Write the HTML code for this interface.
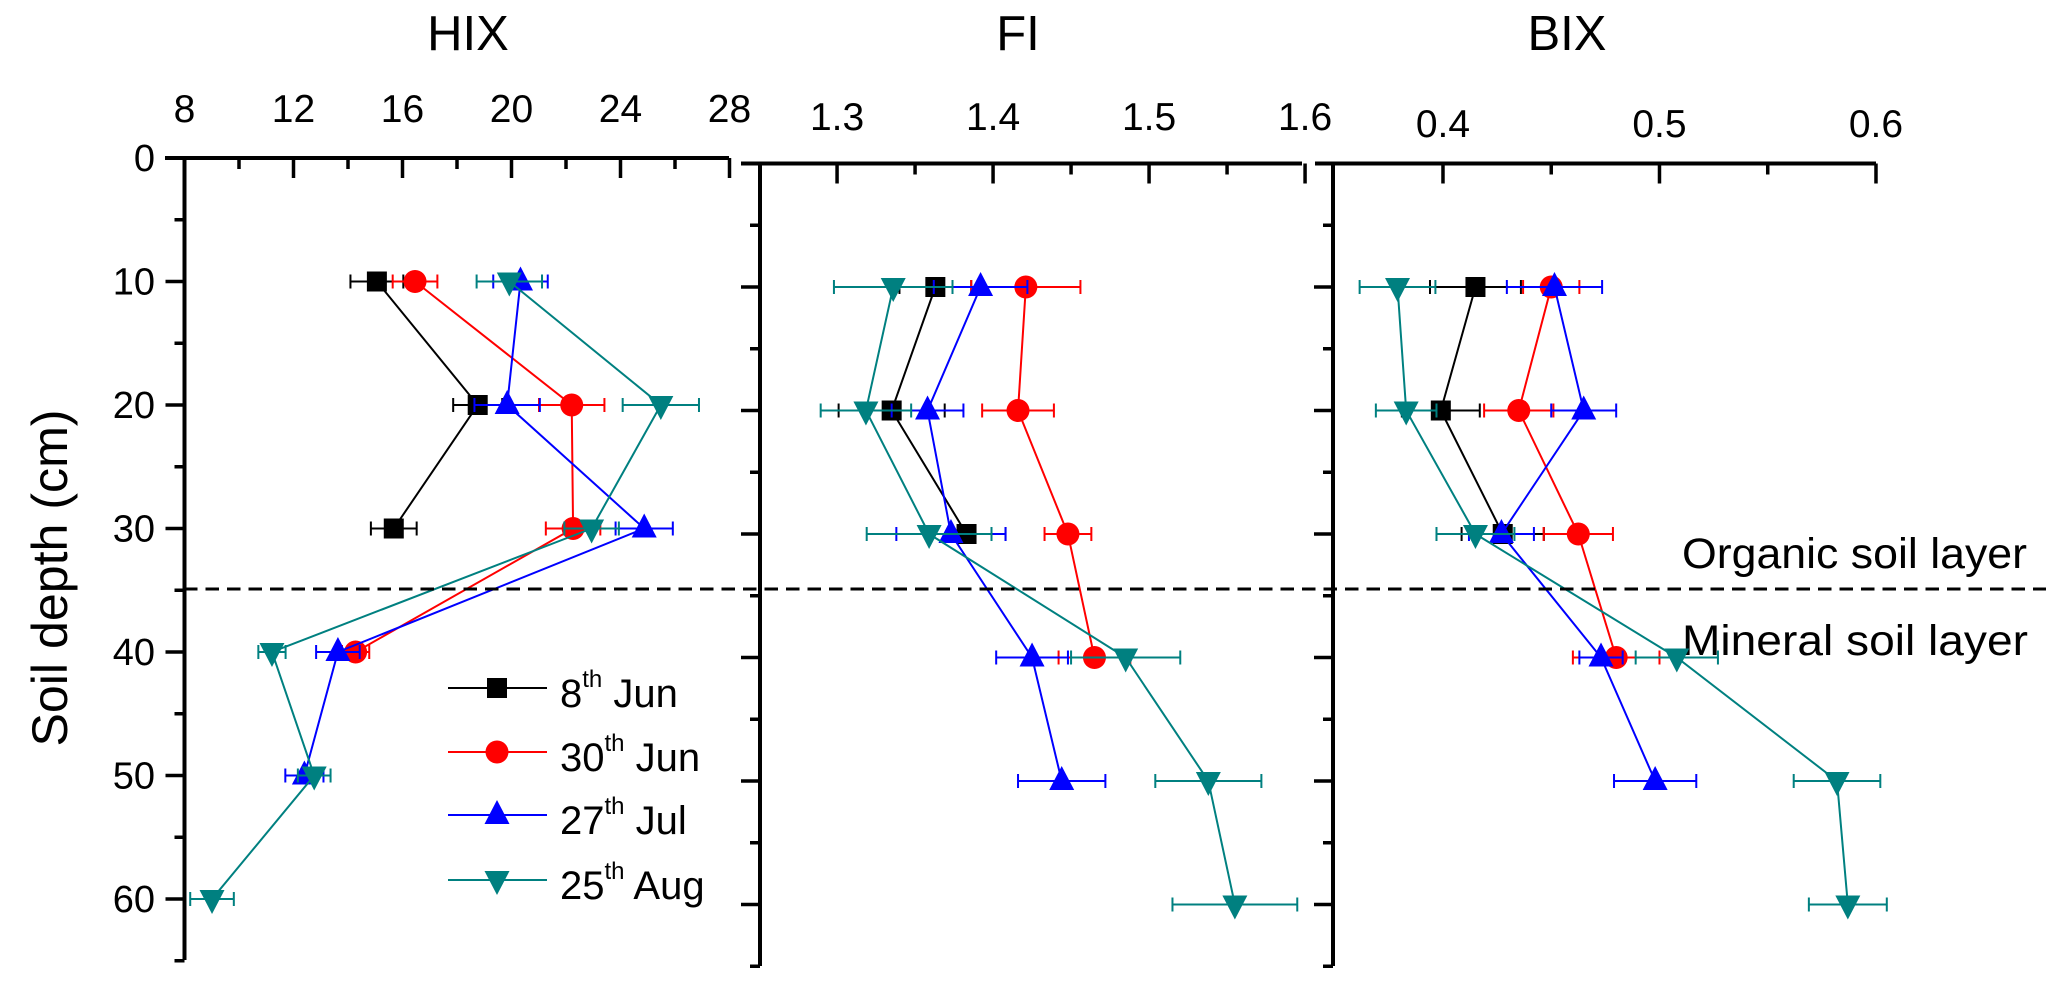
<!DOCTYPE html>
<html><head><meta charset="utf-8"><title>Soil depth profiles of HIX, FI and BIX</title>
<style>
html,body{margin:0;padding:0;background:#fff;}
svg{display:block;font-family:"Liberation Sans",sans-serif;}
</style></head>
<body>
<svg id="chart" width="2067" height="982" viewBox="0 0 2067 982" xmlns="http://www.w3.org/2000/svg">
<rect x="0" y="0" width="2067" height="982" fill="#fff"/>
<text transform="translate(67,578) rotate(-90)" text-anchor="middle" font-size="50" textLength="337" lengthAdjust="spacingAndGlyphs">Soil depth (cm)</text>
<text x="468" y="50" text-anchor="middle" font-size="49">HIX</text>
<text x="1018" y="50" text-anchor="middle" font-size="49">FI</text>
<text x="1567" y="50" text-anchor="middle" font-size="49">BIX</text>
<text x="1682" y="568" font-size="43" textLength="345" lengthAdjust="spacingAndGlyphs">Organic soil layer</text>
<text x="1682" y="655" font-size="43" textLength="346" lengthAdjust="spacingAndGlyphs">Mineral soil layer</text>
<g id="plots"></g>
<line x1="184" y1="589" x2="2046" y2="589" stroke="#000" stroke-width="3" stroke-dasharray="13.5,8"/>
<g id="legend"></g>
</svg>
<script>
// ---- data ----
const seriesNames = ["8th Jun", "30th Jun", "27th Jul", "25th Aug"];
const depthsJun8 = [10, 20, 30];
const depthsJun30 = [10, 20, 30, 40];
const depthsJul27 = [10, 20, 30, 40, 50];
const depthsAug25 = [10, 20, 30, 40, 50, 60];

const hixJun8 = [15.06, 18.76, 15.68];
const hixJun8Err = [0.97, 0.9, 0.84];
const hixJun30 = [16.46, 22.21, 22.26, 14.28];
const hixJun30Err = [0.82, 1.2, 1.0, 0.5];
const hixJul27 = [20.33, 19.84, 24.87, 13.63, 12.40];
const hixJul27Err = [1.0, 1.2, 1.05, 0.8, 0.7];
const hixAug25 = [19.92, 25.48, 22.94, 11.21, 12.76, 9.01];
const hixAug25Err = [1.2, 1.4, 1.0, 0.5, 0.6, 0.8];

const fiJun8 = [1.363, 1.335, 1.383];
const fiJun8Err = [0.023, 0.034, 0.025];
const fiJun30 = [1.421, 1.416, 1.448, 1.465];
const fiJun30Err = [0.035, 0.023, 0.015, 0.023];
const fiJul27 = [1.392, 1.358, 1.373, 1.425, 1.444];
const fiJul27Err = [0.03, 0.023, 0.035, 0.023, 0.028];
const fiAug25 = [1.336, 1.3185, 1.359, 1.485, 1.538, 1.555];
const fiAug25Err = [0.038, 0.029, 0.040, 0.035, 0.034, 0.040];

const bixJun8 = [0.415, 0.399, 0.4276];
const bixJun8Err = [0.021, 0.018, 0.019];
const bixJun30 = [0.450, 0.435, 0.4625, 0.480];
const bixJun30Err = [0.013, 0.016, 0.016, 0.02];
const bixJul27 = [0.4515, 0.465, 0.427, 0.473, 0.498];
const bixJul27Err = [0.022, 0.015, 0.015, 0.01, 0.019];
const bixAug25 = [0.379, 0.383, 0.415, 0.508, 0.582, 0.587];
const bixAug25Err = [0.0175, 0.014, 0.018, 0.019, 0.020, 0.018];

const hixTicks = [8, 12, 16, 20, 24, 28];
const hixTickLabels = ["8", "12", "16", "20", "24", "28"];
const fiTicks = [1.3, 1.4, 1.5, 1.6];
const fiTickLabels = ["1.3", "1.4", "1.5", "1.6"];
const bixTicks = [0.4, 0.5, 0.6];
const bixTickLabels = ["0.4", "0.5", "0.6"];
const depthTicks = [0, 10, 20, 30, 40, 50, 60];
const depthTickLabels = ["0", "10", "20", "30", "40", "50", "60"];

// ---- rendering ----
const NS = "http://www.w3.org/2000/svg";
const colors = ["#000000", "#ff0000", "#0000ff", "#008080"];
const markers = ["square", "circle", "up", "down"];
const plots = document.getElementById("plots");

function mk(tag, attrs, parent) {
  const e = document.createElementNS(NS, tag);
  for (const k in attrs) e.setAttribute(k, attrs[k]);
  (parent || plots).appendChild(e);
  return e;
}

function drawMarker(g, type, x, y, color) {
  let m;
  if (type === "square") m = mk("rect", {x: x - 10, y: y - 10, width: 20, height: 20, fill: color}, g);
  else if (type === "circle") m = mk("circle", {cx: x, cy: y, r: 11.5, fill: color}, g);
  else if (type === "up") m = mk("polygon", {points: `${x},${y-15} ${x-12.5},${y+9} ${x+12.5},${y+9}`, fill: color}, g);
  else m = mk("polygon", {points: `${x},${y+15} ${x-12.5},${y-9} ${x+12.5},${y-9}`, fill: color}, g);
  return m;
}

const panels = [
  {key: "hix", vmin: 8, vmax: 28, pxMin: 184.5, pxPerUnit: 27.25, y0: 158, axisLeft: 184.5, topStart: 165, topEnd: 729, yBottom: 960,
   ticks: hixTicks, labels: hixTickLabels, minor: [10, 14, 18, 22, 26], labelY: 122, showDepthLabels: true,
   series: [[depthsJun8, hixJun8, hixJun8Err], [depthsJun30, hixJun30, hixJun30Err], [depthsJul27, hixJul27, hixJul27Err], [depthsAug25, hixAug25, hixAug25Err]]},
  {key: "fi", vmin: 1.2506, vmax: 1.6, pxMin: 760, pxPerUnit: 1560, y0: 163.5, axisLeft: 760, topStart: 741, topEnd: 1302, yBottom: 966,
   ticks: fiTicks, labels: fiTickLabels, minor: [1.35, 1.45, 1.55], labelY: 130, showDepthLabels: false,
   series: [[depthsJun8, fiJun8, fiJun8Err], [depthsJun30, fiJun30, fiJun30Err], [depthsJul27, fiJul27, fiJul27Err], [depthsAug25, fiAug25, fiAug25Err]]},
  {key: "bix", vmin: 0.3492, vmax: 0.6, pxMin: 1333, pxPerUnit: 2165, y0: 163.5, axisLeft: 1333, topStart: 1315, topEnd: 1876, yBottom: 966,
   ticks: bixTicks, labels: bixTickLabels, minor: [0.45, 0.55], labelY: 137, showDepthLabels: false,
   series: [[depthsJun8, bixJun8, bixJun8Err], [depthsJun30, bixJun30, bixJun30Err], [depthsJul27, bixJul27, bixJul27Err], [depthsAug25, bixAug25, bixAug25Err]]}
];

panels.forEach(p => {
  const xs = v => p.pxMin + (v - p.vmin) * p.pxPerUnit;
  const ys = d => p.y0 + d * 12.35;
  const g = mk("g", {});
  
  

  // axes
  const topAxis = mk("line", {x1: p.topStart, y1: p.y0, x2: p.topEnd, y2: p.y0, stroke: "#000", "stroke-width": 4}, g);
  
  
  const leftAxis = mk("line", {x1: p.axisLeft, y1: p.y0 - 2, x2: p.axisLeft, y2: p.yBottom, stroke: "#000", "stroke-width": 4}, g);
  
  

  // x ticks
  p.ticks.forEach((t, i) => {
    const x = xs(t);
    const tk = mk("line", {x1: x, y1: p.y0, x2: x, y2: p.y0 + 20, stroke: "#000", "stroke-width": 3.5}, g);
    
    
    const lb = mk("text", {x: x, y: p.labelY, "text-anchor": "middle", "font-size": 39}, g);
    lb.textContent = p.labels[i];
    
    
  });
  p.minor.forEach(t => {
    const x = xs(t);
    const tk = mk("line", {x1: x, y1: p.y0, x2: x, y2: p.y0 + 11, stroke: "#000", "stroke-width": 3.5}, g);
    
    
  });

  // y ticks
  for (let d = 5; d <= 65; d += 5) {
    const major = d % 10 === 0;
    const y = ys(d);
    const tk = mk("line", {x1: p.axisLeft - (major ? 19 : 10), y1: y, x2: p.axisLeft, y2: y, stroke: "#000", "stroke-width": 3.5}, g);
    
    
  }
  if (p.showDepthLabels) {
    depthTicks.forEach((d, i) => {
      const lb = mk("text", {x: 155, y: ys(d) + 13, "text-anchor": "end", "font-size": 38}, g);
      lb.textContent = depthTickLabels[i];
      
      
    });
  }

  // series
  p.series.forEach((s, si) => {
    const [depths, vals, errs] = s;
    const sg = mk("g", {}, g);
    
    
    const pts = vals.map((v, i) => xs(v) + "," + ys(depths[i])).join(" ");
    const pl = mk("polyline", {points: pts, fill: "none", stroke: colors[si], "stroke-width": 2}, sg);
    
    
    vals.forEach((v, i) => {
      const y = ys(depths[i]);
      const xl = xs(v - errs[i]), xr = xs(v + errs[i]);
      const eb = mk("path", {d: `M${xl},${y}H${xr}M${xl},${y-7}V${y+7}M${xr},${y-7}V${y+7}`, stroke: colors[si], "stroke-width": 2, fill: "none"}, sg);
      
      
    });
    vals.forEach((v, i) => {
      const m = drawMarker(sg, markers[si], xs(v), ys(depths[i]), colors[si]);
      
      
    });
  });
});

// legend
const legend = document.getElementById("legend");
const legendDates = ["8", "30", "27", "25"];
const legendMonths = ["Jun", "Jun", "Jul", "Aug"];
const legendY = [688, 752, 815, 880];
seriesNames.forEach((n, i) => {
  const g = mk("g", {}, legend);
  
  
  const y = legendY[i];
  mk("line", {x1: 448, y1: y, x2: 547, y2: y, stroke: colors[i], "stroke-width": 2}, g);
  drawMarker(g, markers[i], 497, y, colors[i]);
  const t = mk("text", {x: 560, y: y + 19, "font-size": 40}, g);
  const a = document.createElementNS(NS, "tspan"); a.textContent = legendDates[i]; t.appendChild(a);
  const b = document.createElementNS(NS, "tspan"); b.setAttribute("dy", "-20"); b.setAttribute("font-size", "24"); b.textContent = "th"; t.appendChild(b);
  const c = document.createElementNS(NS, "tspan"); c.setAttribute("dy", "20"); c.textContent = " " + legendMonths[i]; t.appendChild(c);
});
</script>
</body></html>
